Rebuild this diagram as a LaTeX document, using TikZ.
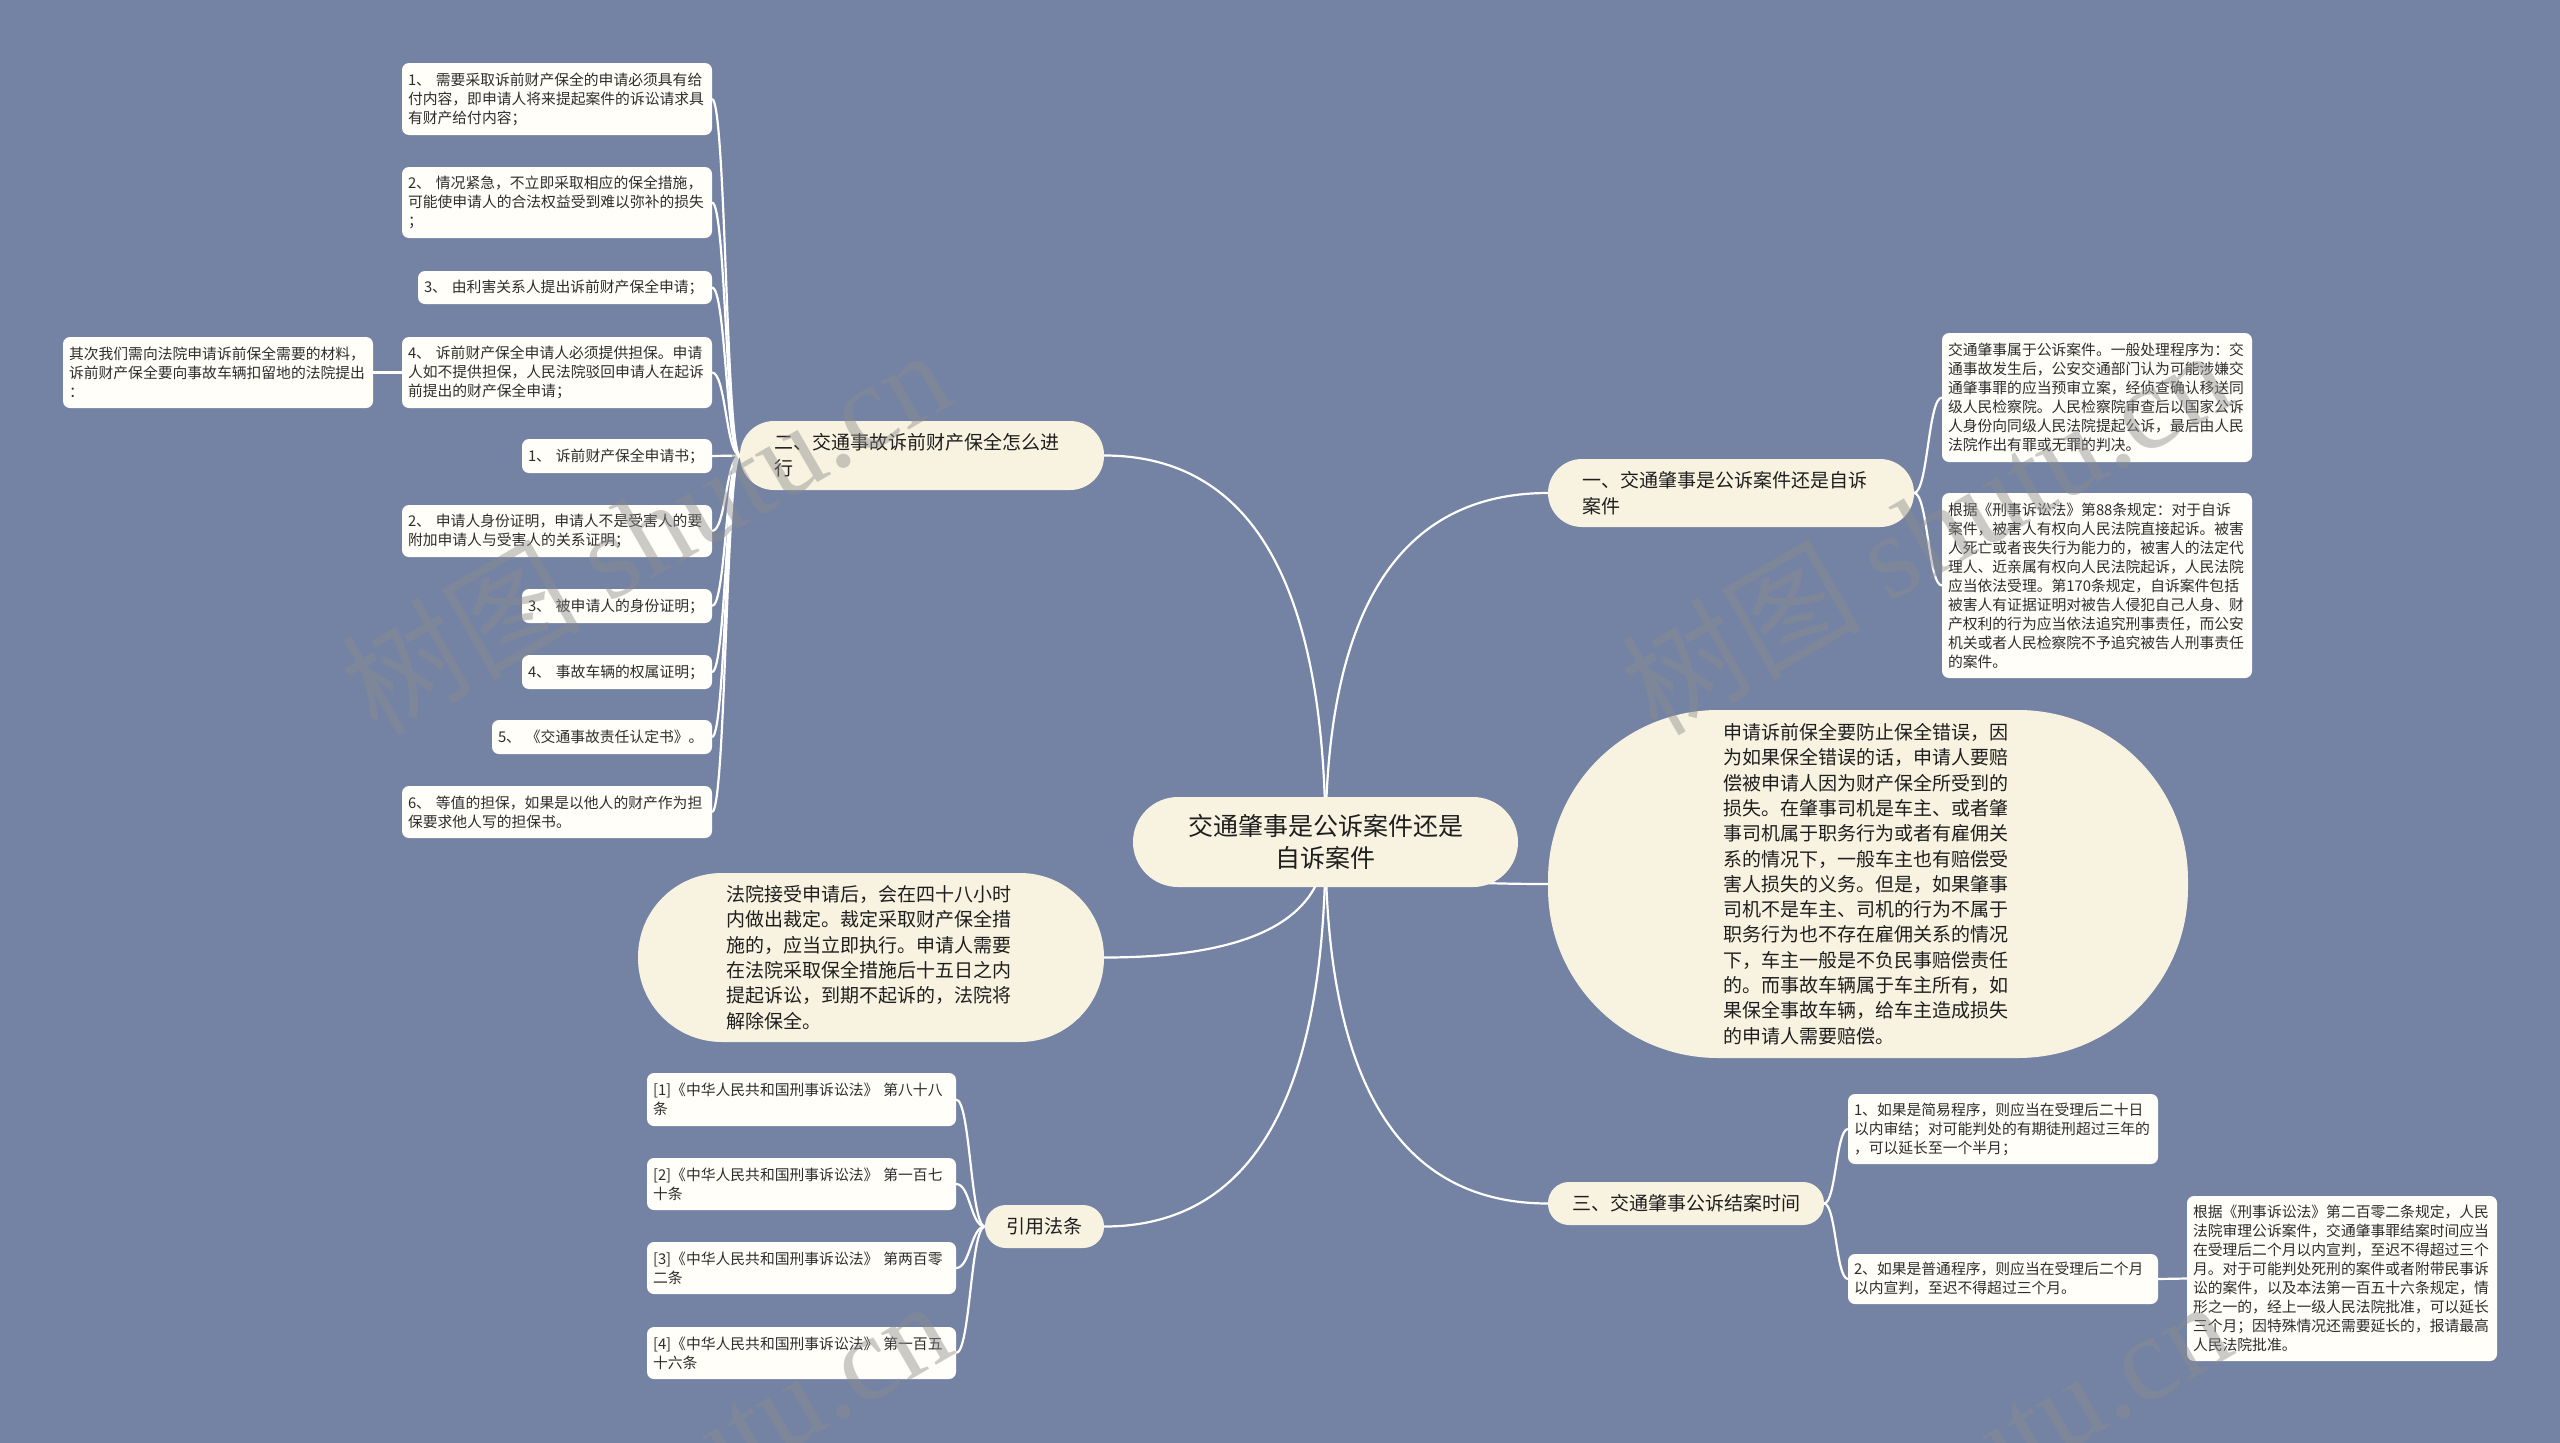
\documentclass[tikz,border=0pt]{standalone}
\usepackage{fontspec}
\setmainfont{Noto Sans CJK SC}
\newfontfamily\wmlatin{Liberation Serif}
\usetikzlibrary{calc}
\definecolor{bgc}{RGB}{116,130,164}
\definecolor{leafc}{RGB}{255,254,248}
\definecolor{topc}{RGB}{248,243,225}
\definecolor{txt}{RGB}{45,45,45}
\definecolor{toptxt}{RGB}{30,30,30}
\definecolor{wmc}{RGB}{140,140,140}
\pgfdeclarelayer{bg}\pgfdeclarelayer{edges}\pgfdeclarelayer{wm}
\pgfsetlayers{bg,edges,main,wm}
\tikzset{
  leaf/.style={anchor=north west, fill=leafc, rounded corners=7pt, inner xsep=6pt, inner ysep=0pt, outer sep=0pt, align=left, text=txt, font=\fontsize{14.8pt}{19pt}\selectfont},
  topic/.style={anchor=north west, fill=topc, inner ysep=0pt, outer sep=0pt, text=toptxt, font=\fontsize{19pt}{26pt}\selectfont},
  bubble/.style={anchor=north west, fill=topc, inner ysep=0pt, outer sep=0pt, text=toptxt, align=left, text width=290pt, font=\fontsize{19pt}{25.3pt}\selectfont},
  link/.style={draw=white, line width=2.2pt},
  wmark/.style={text=wmc, text opacity=0.45, rotate=30, font=\fontsize{120pt}{130pt}\selectfont}
}
\newcommand\scurve[2]{\draw[link] let \p1=(#1), \p2=(#2) in (\p1) .. controls ({((\x1)+(\x2))/2},\y1) and ({((\x1)+(\x2))/2},\y2) .. (\p2);}
\newcommand\rcurve[2]{\draw[link] let \p1=(#1), \p2=(#2) in (\p1) .. controls (\x1,{\y1+0.667*((\y2)-(\y1))}) and ({\x2+0.667*((\x1)-(\x2))},\y2) .. (\p2);}
\begin{document}
\begin{tikzpicture}[x=1pt,y=-1pt]
\useasboundingbox (0,0) rectangle (2560,1443);
\begin{pgfonlayer}{bg}
\fill[bgc] (0,0) rectangle (2560,1443);
\end{pgfonlayer}

% root
\node[topic, rounded corners=45pt, minimum width=385pt, minimum height=90pt, align=center, font=\fontsize{25pt}{32pt}\selectfont] (root) at (1133,797) {交通肇事是公诉案件还是\\自诉案件};

% main topics
\node[topic, rounded corners=34pt, minimum width=364pt, minimum height=69pt, inner xsep=34pt, align=left, text width=296pt] (t2) at (740,421) {二、交通事故诉前财产保全怎么进\\行};
\node[topic, rounded corners=34pt, minimum width=366pt, minimum height=68pt, inner xsep=34pt, align=left, text width=298pt] (t1) at (1548,459) {一、交通肇事是公诉案件还是自诉\\案件};
\node[topic, rounded corners=21pt, minimum width=276pt, minimum height=43pt] (t3) at (1548,1182) {三、交通肇事公诉结案时间};
\node[topic, rounded corners=21pt, minimum width=119pt, minimum height=43pt] (tc) at (985,1205) {引用法条};

% bubbles
\node[bubble, rounded corners=170pt, minimum width=640pt, minimum height=348pt] (bigb) at (1548,710) {申请诉前保全要防止保全错误，因\\为如果保全错误的话，申请人要赔\\偿被申请人因为财产保全所受到的\\损失。在肇事司机是车主、或者肇\\事司机属于职务行为或者有雇佣关\\系的情况下，一般车主也有赔偿受\\害人损失的义务。但是，如果肇事\\司机不是车主、司机的行为不属于\\职务行为也不存在雇佣关系的情况\\下，车主一般是不负民事赔偿责任\\的。而事故车辆属于车主所有，如\\果保全事故车辆，给车主造成损失\\的申请人需要赔偿。};
\node[bubble, rounded corners=84pt, minimum width=466pt, minimum height=169pt] (leftb) at (638,873) {法院接受申请后，会在四十八小时\\内做出裁定。裁定采取财产保全措\\施的，应当立即执行。申请人需要\\在法院采取保全措施后十五日之内\\提起诉讼，到期不起诉的，法院将\\解除保全。};

% leaves of t2
\node[leaf, minimum width=310pt, minimum height=72pt, text width=298pt] (a1) at (402,63) {1、 需要采取诉前财产保全的申请必须具有给\\付内容，即申请人将来提起案件的诉讼请求具\\有财产给付内容；};
\node[leaf, minimum width=310pt, minimum height=71pt, text width=298pt] (a2) at (402,167) {2、 情况紧急，不立即采取相应的保全措施，\\可能使申请人的合法权益受到难以弥补的损失\\；};
\node[leaf, minimum width=294pt, minimum height=33pt, text width=282pt] (a3) at (418,271) {3、 由利害关系人提出诉前财产保全申请；};
\node[leaf, minimum width=310pt, minimum height=71pt, text width=298pt] (a4) at (402,337) {4、 诉前财产保全申请人必须提供担保。申请\\人如不提供担保，人民法院驳回申请人在起诉\\前提出的财产保全申请；};
\node[leaf, minimum width=310pt, minimum height=71pt, text width=298pt] (a4c) at (63,337) {其次我们需向法院申请诉前保全需要的材料，\\诉前财产保全要向事故车辆扣留地的法院提出\\：};
\node[leaf, minimum width=190pt, minimum height=34pt, text width=178pt] (a5) at (522,439) {1、 诉前财产保全申请书；};
\node[leaf, minimum width=310pt, minimum height=52pt, text width=298pt] (a6) at (402,505) {2、 申请人身份证明，申请人不是受害人的要\\附加申请人与受害人的关系证明；};
\node[leaf, minimum width=190pt, minimum height=34pt, text width=178pt] (a7) at (522,589) {3、 被申请人的身份证明；};
\node[leaf, minimum width=190pt, minimum height=34pt, text width=178pt] (a8) at (522,655) {4、 事故车辆的权属证明；};
\node[leaf, minimum width=220pt, minimum height=34pt, text width=208pt] (a9) at (492,720) {5、 《交通事故责任认定书》。};
\node[leaf, minimum width=310pt, minimum height=52pt, text width=298pt] (a10) at (402,786) {6、 等值的担保，如果是以他人的财产作为担\\保要求他人写的担保书。};

% leaves of t1
\node[leaf, minimum width=310pt, minimum height=129pt, text width=298pt] (r1) at (1942,333) {交通肇事属于公诉案件。一般处理程序为：交\\通事故发生后，公安交通部门认为可能涉嫌交\\通肇事罪的应当预审立案，经侦查确认移送同\\级人民检察院。人民检察院审查后以国家公诉\\人身份向同级人民法院提起公诉，最后由人民\\法院作出有罪或无罪的判决。};
\node[leaf, minimum width=310pt, minimum height=185pt, text width=298pt] (r2) at (1942,493) {根据《刑事诉讼法》第88条规定：对于自诉\\案件，被害人有权向人民法院直接起诉。被害\\人死亡或者丧失行为能力的，被害人的法定代\\理人、近亲属有权向人民法院起诉，人民法院\\应当依法受理。第170条规定，自诉案件包括\\被害人有证据证明对被告人侵犯自己人身、财\\产权利的行为应当依法追究刑事责任，而公安\\机关或者人民检察院不予追究被告人刑事责任\\的案件。};

% leaves of t3
\node[leaf, minimum width=310pt, minimum height=70pt, text width=298pt] (s1) at (1848,1094) {1、如果是简易程序，则应当在受理后二十日\\以内审结；对可能判处的有期徒刑超过三年的\\，可以延长至一个半月；};
\node[leaf, minimum width=310pt, minimum height=50pt, text width=298pt] (s2) at (1848,1254) {2、如果是普通程序，则应当在受理后二个月\\以内宣判，至迟不得超过三个月。};
\node[leaf, minimum width=310pt, minimum height=165pt, text width=298pt] (s2c) at (2187,1196) {根据《刑事诉讼法》第二百零二条规定，人民\\法院审理公诉案件，交通肇事罪结案时间应当\\在受理后二个月以内宣判，至迟不得超过三个\\月。对于可能判处死刑的案件或者附带民事诉\\讼的案件，以及本法第一百五十六条规定，情\\形之一的，经上一级人民法院批准，可以延长\\三个月；因特殊情况还需要延长的，报请最高\\人民法院批准。};

% leaves of tc
\node[leaf, minimum width=309pt, minimum height=53pt, text width=297pt] (c1) at (647,1073) {[1]《中华人民共和国刑事诉讼法》 第八十八\\条};
\node[leaf, minimum width=309pt, minimum height=52pt, text width=297pt] (c2) at (647,1158) {[2]《中华人民共和国刑事诉讼法》 第一百七\\十条};
\node[leaf, minimum width=309pt, minimum height=52pt, text width=297pt] (c3) at (647,1242) {[3]《中华人民共和国刑事诉讼法》 第两百零\\二条};
\node[leaf, minimum width=309pt, minimum height=52pt, text width=297pt] (c4) at (647,1327) {[4]《中华人民共和国刑事诉讼法》 第一百五\\十六条};

\begin{pgfonlayer}{edges}
\rcurve{root.center}{t2.east}
\rcurve{root.center}{t1.west}
\rcurve{root.center}{leftb.east}
\rcurve{root.center}{bigb.west}
\rcurve{root.center}{t3.west}
\rcurve{root.center}{tc.east}
\foreach \nd in {a1,a2,a3,a4,a5,a6,a7,a8,a9,a10} {\scurve{t2.west}{\nd.east}}
\foreach \nd in {r1,r2} {\scurve{t1.east}{\nd.west}}
\foreach \nd in {s1,s2} {\scurve{t3.east}{\nd.west}}
\foreach \nd in {c1,c2,c3,c4} {\scurve{tc.west}{\nd.east}}
\draw[link] (a4.west) -- (a4c.east);
\draw[link] (s2.east) -- (s2c.west);
\end{pgfonlayer}

\begin{pgfonlayer}{wm}
\node[wmark] (wm1) at (645,530) {树图 {\wmlatin shutu.cn}};
\node[wmark] (wm2) at (1925,530) {树图 {\wmlatin shutu.cn}};
\node[wmark] (wm3) at (645,1481) {树图 {\wmlatin shutu.cn}};
\node[wmark] (wm4) at (1925,1481) {树图 {\wmlatin shutu.cn}};
\end{pgfonlayer}
\end{tikzpicture}
\end{document}
